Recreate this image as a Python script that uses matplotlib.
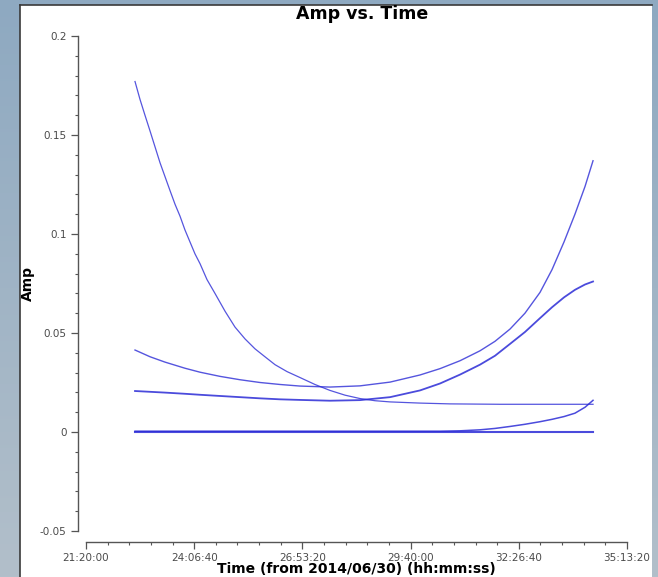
import numpy as np
import matplotlib
matplotlib.use("Agg")
import matplotlib.pyplot as plt
from matplotlib.patches import Rectangle
from matplotlib.lines import Line2D
from matplotlib.ticker import MultipleLocator

# ==============================
# Data (time in seconds from 2014/06/30 00:00:00)
# ==============================

# big U, starts high and flattens near 0.014
time_1 = [81330, 81790, 82250, 82720, 83180, 83640, 84100, 84560, 85030,
          85490, 85950, 86410, 86870, 87340, 87980, 88720, 89650, 90570,
          91500, 92420, 93340, 94270, 95380, 96580, 97960, 99350, 100740,
          102120, 103510, 104900, 107670, 110440, 115060, 119680, 123660]
amp_1 = [0.177, 0.168, 0.160, 0.152, 0.144, 0.136, 0.129, 0.122, 0.115,
         0.109, 0.102, 0.096, 0.090, 0.085, 0.077, 0.070, 0.061, 0.053,
         0.047, 0.042, 0.038, 0.034, 0.0305, 0.0275, 0.0240, 0.0210, 0.0186,
         0.0169, 0.0158, 0.0152, 0.0146, 0.0142, 0.0140, 0.0140, 0.0140]

# the other four series share one time grid
time_2 = [81330, 82720, 84100, 85950, 87340, 89180, 91030, 92880, 94730,
          96580, 99350, 102120, 104900, 107670, 109520, 111370, 113210,
          114600, 115990, 117370, 118760, 119870, 120980, 121990, 122920,
          123660]

# starts at ~0.041, ends at ~0.137
amp_2 = [0.0414, 0.0380, 0.0353, 0.0322, 0.0302, 0.0281, 0.0264, 0.0250,
         0.0240, 0.0232, 0.0227, 0.0233, 0.0252, 0.0288, 0.0320, 0.0360,
         0.0410, 0.0458, 0.0520, 0.0600, 0.0705, 0.0820, 0.0960, 0.1100,
         0.1240, 0.1370]

# starts at ~0.021, ends at ~0.076
amp_3 = [0.0207, 0.0203, 0.0199, 0.0193, 0.0188, 0.0182, 0.0176, 0.0170,
         0.0165, 0.0162, 0.0158, 0.0161, 0.0176, 0.0210, 0.0245, 0.0290,
         0.0340, 0.0385, 0.0445, 0.0505, 0.0575, 0.0630, 0.0680, 0.0718,
         0.0745, 0.0760]

# flat at zero
amp_4 = [0.0002] * len(time_2)

# near zero, rising at the end
amp_5 = [0.0004, 0.0004, 0.0004, 0.0004, 0.0004, 0.0004, 0.0004, 0.0004,
         0.0004, 0.0004, 0.0004, 0.0004, 0.0004, 0.0004, 0.0004, 0.0006,
         0.0011, 0.0018, 0.0028, 0.0039, 0.0052, 0.0064, 0.0078, 0.0095,
         0.0125, 0.0160]

x_ticks = [76800, 86800, 96800, 106800, 116800, 126800]
x_ticklabels = ["21:20:00", "24:06:40", "26:53:20", "29:40:00", "32:26:40", "35:13:20"]
y_ticks = [-0.05, 0, 0.05, 0.1, 0.15, 0.2]
y_ticklabels = ["-0.05", "0", "0.05", "0.1", "0.15", "0.2"]

W, H = 658, 577

fig = plt.figure(figsize=(W / 100, H / 100), dpi=100)

# window background (blue-grey gradient) and white plot panel
bg = fig.add_axes([0, 0, 1, 1], zorder=-10)
grad = np.linspace(0, 1, 256).reshape(-1, 1)
top_c = np.array([0x8e, 0xa9, 0xc1]) / 255
bot_c = np.array([0xb2, 0xbf, 0xca]) / 255
img = top_c[None, None, :] * (1 - grad[:, :, None]) + bot_c[None, None, :] * grad[:, :, None]
bg.imshow(img, aspect="auto", extent=[0, 1, 0, 1])
bg.set_axis_off()

fig.add_artist(Rectangle((20 / W, 0), (652 - 20) / W, 1 - 5 / H,
                         transform=fig.transFigure, facecolor="white",
                         edgecolor="none", zorder=-5))
fig.add_artist(Line2D([19.5 / W, 19.5 / W], [0, 1 - 4.5 / H],
                      transform=fig.transFigure, color="#3a3a3a", lw=1.2, zorder=-4))
fig.add_artist(Line2D([19.5 / W, 652 / W], [1 - 4.5 / H, 1 - 4.5 / H],
                      transform=fig.transFigure, color="#3a3a3a", lw=1.2, zorder=-4))

# ==============================
# Plot
# ==============================

ax = fig.add_axes([86 / W, 1 - 531 / H, (627 - 86) / W, (531 - 36) / H])
ax.set_facecolor("none")

line_color = "#2b2bd6"
ax.plot(time_1, amp_1, color=line_color, lw=0.9, alpha=0.8)
ax.plot(time_2, amp_2, color=line_color, lw=1.0, alpha=0.8)
ax.plot(time_2, amp_3, color=line_color, lw=1.3, alpha=0.85)
ax.plot(time_2, amp_4, color=line_color, lw=1.5, alpha=0.85)
ax.plot(time_2, amp_5, color=line_color, lw=1.1, alpha=0.85)

ax.set_xlim(76800, 126800)
ax.set_ylim(-0.05, 0.2)

ax.set_xticks(x_ticks)
ax.set_xticklabels(x_ticklabels)
ax.set_xticks(np.arange(76800, 126801, 2000), minor=True)
ax.set_yticks(y_ticks)
ax.set_yticklabels(y_ticklabels)
ax.yaxis.set_minor_locator(MultipleLocator(0.01))

for s in ["top", "right"]:
    ax.spines[s].set_visible(False)
ax.spines["left"].set_position(("outward", 6))
ax.spines["bottom"].set_position(("outward", 8))
for s in ["left", "bottom"]:
    ax.spines[s].set_color("#555555")
    ax.spines[s].set_linewidth(1.0)

ax.tick_params(which="major", length=5, width=0.9, color="#555555",
               labelsize=7.5, labelcolor="#4a4a4a", pad=3)
ax.tick_params(which="minor", length=2.5, width=0.8, color="#555555")

ax.set_title("Amp vs. Time", fontsize=12.5, fontweight="bold", x=0.51, pad=12)
ax.set_xlabel("Time (from 2014/06/30) (hh:mm:ss)", fontsize=10, fontweight="bold")
ax.set_ylabel("Amp", fontsize=10, fontweight="bold")
ax.xaxis.set_label_coords(0.5, -0.062)
ax.yaxis.set_label_coords(-0.094, 0.5)

plt.savefig("out.png", dpi=100)
